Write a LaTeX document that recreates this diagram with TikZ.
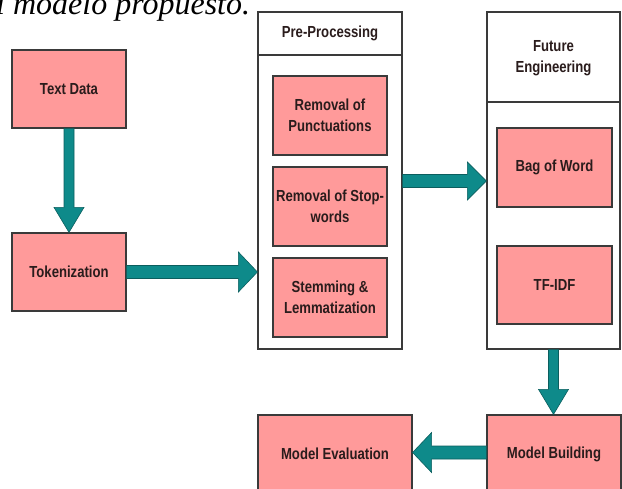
\documentclass[tikz,border=0pt]{standalone}
\usepackage{fontspec}
\setmainfont{Liberation Sans}
\newfontfamily\labfont{Liberation Sans}[FakeStretch=0.82]
\newfontfamily\capfont{Liberation Serif}
\usetikzlibrary{calc}
\definecolor{boxpink}{HTML}{FF9A9A}
\definecolor{boxline}{HTML}{3A3A3A}
\definecolor{arrteal}{HTML}{0E8A8A}
\definecolor{arrline}{HTML}{0B5E5E}
\definecolor{txt}{HTML}{2A1C1C}
\tikzset{
  lbl/.style={font=\labfont\bfseries\fontsize{16}{21.5}\selectfont, text=txt, align=center},
  pinkbox/.style={lbl, draw=boxline, line width=1.2pt, fill=boxpink, inner sep=0pt},
  container/.style={draw=boxline, line width=1.2pt, fill=white, inner sep=0pt},
  divider/.style={draw=boxline, line width=1.2pt},
  fatarrow/.style={fill=arrteal, draw=arrline, line width=0.6pt, line join=miter},
  captext/.style={font=\capfont\itshape\fontsize{32}{32}\selectfont, anchor=base west, inner sep=0pt, text=black}
}
% #1 start, #2 end, #3 shaft half width, #4 head half width, #5 head length
\newcommand\fatarr[5]{%
  \path (#1) coordinate (fa-s) (#2) coordinate (fa-e);
  \path ($(fa-e)!#5!(fa-s)$) coordinate (fa-h);
  \filldraw[fatarrow] ($(fa-s)!#3!90:(fa-e)$) -- ($(fa-h)!#3!90:(fa-e)$)
     -- ($(fa-h)!#4!90:(fa-e)$) -- (fa-e) -- ($(fa-h)!#4!-90:(fa-e)$)
     -- ($(fa-h)!#3!-90:(fa-e)$) -- ($(fa-s)!#3!-90:(fa-e)$) -- cycle;}
\begin{document}
\begin{tikzpicture}[x=1pt, y=-1pt]
\useasboundingbox (0,0) rectangle (622,488);
% caption fragment (cut off at the top, as in the reference)
\node[captext] (cap) at (-4,14) {l modelo propuesto.};
% containers
\node[container, minimum width=144pt, minimum height=337pt] (pp) at (330,180.5) {};
\node[container, minimum width=133pt, minimum height=337pt] (fe) at (553.5,180.5) {};
\coordinate (ppdiv) at (0,55);
\coordinate (fediv) at (0,102);
\draw[divider] (pp.west |- ppdiv) -- (pp.east |- ppdiv);
\draw[divider] (fe.west |- fediv) -- (fe.east |- fediv);
\node[lbl] (pph) at (330,33) {Pre-Processing};
\node[lbl] (feh) at (553.5,58) {Future\\Engineering};
% left column
\node[pinkbox, minimum width=114pt, minimum height=78pt] (td) at (69,89) {Text Data};
\node[pinkbox, minimum width=114pt, minimum height=78pt] (tok) at (69,272) {Tokenization};
% pre-processing steps
\node[pinkbox, minimum width=114pt, minimum height=79pt] (p1) at (330,115.5) {Removal of\\Punctuations};
\node[pinkbox, minimum width=114pt, minimum height=79pt] (p2) at (330,206.5) {Removal of Stop-\\words};
\node[pinkbox, minimum width=114pt, minimum height=79pt] (p3) at (330,297.5) {Stemming \&\\Lemmatization};
% feature engineering steps
\node[pinkbox, minimum width=115pt, minimum height=79pt] (f1) at (554.5,167.5) {Bag of Word};
\node[pinkbox, minimum width=115pt, minimum height=78pt] (f2) at (554.5,285) {TF-IDF};
% bottom row
\node[pinkbox, minimum width=154pt, minimum height=78pt] (me) at (335,454) {Model Evaluation};
\node[pinkbox, minimum width=134pt, minimum height=78pt] (mb) at (554,454) {Model Building};
% arrows
\fatarr{td.south}{tok.north}{5pt}{15pt}{25pt}
\fatarr{tok.east}{pp.west |- tok.east}{6.5pt}{20pt}{19pt}
\coordinate (a3) at (0,181);
\fatarr{pp.east |- a3}{fe.west |- a3}{6.5pt}{19pt}{19pt}
\fatarr{fe.south}{fe.south |- mb.north}{5pt}{15pt}{25pt}
\coordinate (a5) at (0,452.5);
\fatarr{mb.west |- a5}{me.east |- a5}{6.5pt}{20pt}{19pt}
\end{tikzpicture}
\end{document}
